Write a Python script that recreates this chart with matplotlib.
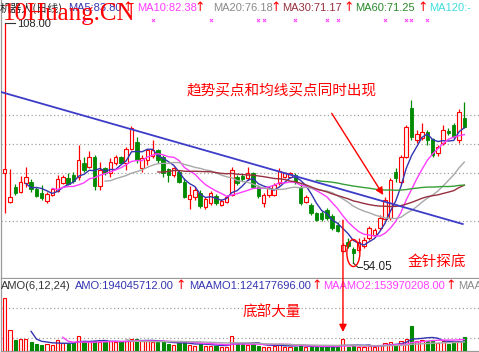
import matplotlib
matplotlib.use('Agg')
import matplotlib.pyplot as plt
import numpy as np
import pandas as pd
from matplotlib.patches import Rectangle, Ellipse, ConnectionPatch

W, H = 479, 352

# ---------------- data (price in yuan, amount in 1e8 yuan) ----------------
opens = [74.4, 67.8, 71.2, 70.1, 72.1, 72.3, 70.6, 69.7, 68.1, 69.3,
         70.3, 72.1, 73.1, 73.8, 73.5, 76.5, 75.6, 78.0, 71.4, 75.35,
         74.2, 76.6, 78.0, 76.6, 79.8, 81.3, 75.35, 77.2, 78.1, 79.5,
         78.0, 75.1, 73.8, 74.6, 72.3, 68.4, 68.9, 69.9, 66.65, 67.55,
         69.1, 67.1, 67.8, 69.35, 73.5, 73.6, 73.2, 74.3, 71.2, 67.55,
         69.35, 69.35, 72.0, 73.5, 73.5, 73.8, 71.2, 67.8, 67.1, 65.2,
         65.4, 66.0, 64.6, 62.6, 56.8, 58.85, 57.3, 57.0, 57.9, 59.7,
         60.4, 61.9, 63.9, 64.2, 74.5, 72.3, 77.9, 88.9, 81.7, 82.1,
         83.6, 81.9, 78.7, 81.0, 83.8, 85.1, 81.7, 86.6]
highs = [108.0, 75.2, 71.8, 73.6, 75.6, 72.9, 71.1, 71.6, 70.0, 70.85,
         73.8, 73.8, 74.4, 74.5, 80.6, 78.0, 79.3, 78.3, 76.8, 75.7,
         77.6, 78.3, 78.1, 80.2, 84.9, 82.4, 78.3, 79.8, 81.7, 79.8,
         78.3, 75.35, 75.7, 75.0, 73.1, 71.4, 71.2, 70.5, 68.9, 70.25,
         69.6, 68.45, 69.35, 75.6, 73.8, 74.1, 75.6, 74.5, 71.6, 69.8,
         71.4, 72.0, 75.4, 74.5, 74.5, 74.3, 71.8, 69.35, 67.55, 65.5,
         65.75, 66.4, 65.1, 63.3, 58.6, 59.7, 57.7, 59.7, 59.9, 62.4,
         61.9, 64.85, 68.9, 73.2, 75.4, 78.3, 85.1, 90.7, 83.95, 85.6,
         84.0, 82.2, 80.6, 85.1, 84.3, 85.5, 88.7, 90.3]
lows = [65.3, 67.6, 69.3, 69.7, 71.1, 70.1, 68.8, 68.2, 67.6, 69.1,
        70.1, 71.8, 71.6, 72.0, 72.7, 74.6, 75.35, 70.5, 70.5, 73.8,
        73.5, 76.1, 76.5, 75.0, 79.5, 76.5, 74.6, 76.1, 77.6, 76.5,
        73.5, 72.3, 73.5, 72.0, 68.6, 66.2, 68.2, 66.4, 66.2, 67.1,
        67.1, 66.9, 67.55, 69.1, 71.6, 72.5, 72.7, 70.9, 68.7, 66.7,
        68.9, 69.1, 71.6, 73.2, 73.2, 71.8, 67.1, 67.55, 64.85, 63.5,
        63.5, 63.7, 61.5, 61.0, 56.5, 57.4, 54.05, 56.5, 57.4, 59.2,
        59.9, 61.5, 63.7, 63.7, 72.3, 71.8, 77.7, 81.7, 81.0, 81.7,
        80.6, 77.8, 78.1, 80.6, 82.8, 81.9, 81.0, 84.4]
closes = [75.3, 68.9, 69.7, 72.3, 73.5, 70.6, 69.1, 68.6, 69.6, 70.6,
          72.9, 73.5, 71.8, 72.5, 77.2, 75.0, 78.0, 71.4, 75.0, 74.2,
          76.8, 78.0, 76.6, 79.6, 84.3, 77.2, 77.6, 79.5, 79.5, 77.2,
          74.2, 73.8, 75.35, 72.3, 68.8, 69.3, 70.5, 66.9, 68.4, 69.8,
          67.55, 68.1, 69.0, 75.0, 72.0, 72.9, 74.3, 71.2, 69.1, 69.35,
          70.9, 71.6, 74.8, 74.3, 74.3, 72.3, 67.5, 69.0, 65.2, 63.7,
          63.9, 64.1, 61.9, 61.3, 58.1, 57.9, 56.4, 58.85, 59.24, 61.9,
          61.5, 64.2, 68.2, 72.7, 73.2, 77.9, 84.6, 82.4, 83.05, 83.6,
          81.7, 78.3, 80.2, 84.0, 83.2, 82.4, 88.0, 84.7]
amount = [7.6, 2.9, 1.55, 1.6, 1.7, 1.3, 0.97, 0.87, 0.97, 0.87,
          1.55, 1.06, 0.97, 1.06, 2.17, 1.2, 1.35, 1.45, 1.3, 1.2,
          1.45, 1.2, 1.2, 1.45, 1.7, 1.7, 1.35, 1.35, 1.2, 1.2,
          1.35, 0.97, 0.87, 1.06, 1.2, 0.87, 0.72, 0.97, 0.72, 0.72,
          0.72, 0.58, 0.58, 2.17, 1.06, 0.97, 0.87, 0.97, 0.72, 0.58,
          0.58, 0.72, 0.97, 0.58, 0.58, 0.58, 0.87, 0.48, 0.48, 0.48,
          0.48, 0.58, 0.72, 0.48, 1.7, 0.48, 0.72, 0.58, 0.58, 0.72,
          0.58, 0.87, 1.06, 1.2, 0.87, 1.35, 1.7, 3.62, 1.45, 1.55,
          1.45, 1.55, 1.05, 1.35, 1.0, 1.15, 1.45, 1.94]

ma_periods = [5, 10, 20, 30, 60]
ma_colors = ['#3434b0', '#ff3cff', '#a8a8a8', '#963040', '#35a035']
amo_periods = [6, 12, 24]
amo_colors = ['#3434b0', '#ff3cff', '#a8a8a8']

# trend line (index, price) and annotation anchors
trend_idx = [-0.89, 86.7]
trend_price = [92.56, 62.83]
signal_idx = [15, 28, 39, 48, 49, 55, 61, 63, 72, 76, 77, 80]
price_grid = [87.4, 80.74, 74.36, 63.57]
amo_grid = [6.16, 1.86]

# ---------------- figure ----------------
fig = plt.figure(figsize=(W / 100, H / 100), dpi=100)
fig.patch.set_facecolor('white')

def fbox(x0, y0, x1, y1):
    return [x0 / W, 1 - y1 / H, (x1 - x0) / W, (y1 - y0) / H]

ax = fig.add_axes(fbox(1, 0, 479, 278))
axv = fig.add_axes(fbox(1, 279, 479, 351))

n = len(closes)
idx = np.arange(n)
RED = '#ff0000'
GREEN = '#008a00'
xl = (-0.70, 89.78)

for a in (ax, axv):
    a.set_xlim(*xl)
    a.set_xticks([])
    a.set_yticks([])
    for s in ('top', 'right'):
        a.spines[s].set_visible(False)
    for s in ('left', 'bottom'):
        a.spines[s].set_color('#9a9a9a')
        a.spines[s].set_linewidth(0.9)

ax.set_ylim(50.70, 113.17)
axv.set_ylim(-0.07, 10.36)

for g in price_grid:
    ax.axhline(g, color='#a0a0a0', lw=0.9, ls=(0, (1, 2)), zorder=1)
for g in amo_grid:
    axv.axhline(g, color='#a0a0a0', lw=0.9, ls=(0, (1, 2)), zorder=1)

bw = 0.66
for i in range(n):
    o, h, l, c = opens[i], highs[i], lows[i], closes[i]
    up = c >= o
    col = RED if up else GREEN
    lo_b, hi_b = min(o, c), max(o, c)
    if up:
        ax.plot([i, i], [hi_b, h], color=col, lw=0.9, zorder=2, solid_capstyle='butt')
        ax.plot([i, i], [l, lo_b], color=col, lw=0.9, zorder=2, solid_capstyle='butt')
        ax.add_patch(Rectangle((i - bw / 2, lo_b), bw, max(hi_b - lo_b, 0.15),
                               facecolor='#fff4f4', edgecolor=col, lw=0.8, zorder=3))
    else:
        ax.plot([i, i], [l, h], color=col, lw=0.9, zorder=2, solid_capstyle='butt')
        ax.add_patch(Rectangle((i - bw / 2, lo_b), bw, max(hi_b - lo_b, 0.15),
                               facecolor=col, edgecolor=col, lw=0.6, zorder=3))
    # amount bars
    axv.add_patch(Rectangle((i - 0.3, 0), 0.6, amount[i],
                            facecolor='#fff4f4' if up else col, edgecolor=col,
                            lw=0.8, zorder=3))

cs = pd.Series(closes)
for p, colr in zip(ma_periods, ma_colors):
    ax.plot(idx, cs.rolling(p).mean(), color=colr, lw=1.0, zorder=4)

am = pd.Series(amount)
for p, colr in zip(amo_periods, amo_colors):
    axv.plot(idx, am.rolling(p).mean(), color=colr, lw=1.0, zorder=4)

# trend line
ax.plot(trend_idx, trend_price, color='#3c3cc8', lw=1.3, zorder=4)

# signal markers
ax.scatter(signal_idx, [108.67] * len(signal_idx), marker='x', s=5, lw=0.7,
           color='#ff40ff', zorder=5)

# high label
ax.plot([0, 1.9], [108.0, 108.0], color='#333333', lw=0.8, zorder=5)
ax.text(2.3, 107.8, '108.00', fontsize=8, color='#222222', va='center', ha='left',
        family=['Liberation Sans', 'DejaVu Sans'])

# low label
low_i = int(np.argmin(lows))
ax.plot([low_i, low_i + 0.9, low_i + 1.7], [lows[low_i], 53.06, 53.06],
        color='#333333', lw=0.8, zorder=5)
ax.text(low_i + 1.8, 53.06, f'{lows[low_i]:.2f}', fontsize=8.5, color='#222222',
        va='center', ha='left', family=['Liberation Sans', 'DejaVu Sans'])

# ellipse around golden needle candle
ax.add_patch(Ellipse((low_i, 56.31), 2.46, 6.07, fill=False, edgecolor=RED, lw=1.0, zorder=6))

# arrow to buy point
ax.annotate('', xy=(71.66, 69.35), xytext=(61.9, 87.7),
            arrowprops=dict(arrowstyle='-|>', color=RED, lw=1.0, mutation_scale=11,
                            shrinkA=0, shrinkB=0), zorder=6)

# down arrow to bottom volume
con = ConnectionPatch(xyA=(64.03, 63.7), coordsA=ax.transData,
                      xyB=(64.03, 2.68), coordsB=axv.transData,
                      arrowstyle='-|>', color=RED, lw=1.0, mutation_scale=11,
                      shrinkA=0, shrinkB=0, zorder=7)
fig.add_artist(con)

CJK = ['Noto Sans CJK SC', 'DejaVu Sans']
LAT = ['Liberation Sans', 'DejaVu Sans']

def ftext(x, y, s, color, size=8, family=LAT, **kw):
    fig.text(x / W, 1 - y / H, s, color=color, fontsize=size, family=family,
             va='center', ha='left', **kw)

# annotations text
ftext(187, 90.5, '趋势买点和均线买点同时出现', RED, size=10.5, family=CJK)
ftext(408, 261.5, '金针探底', RED, size=10.5, family=CJK)
ftext(243, 313, '底部大量', RED, size=10.5, family=CJK)

# price header
ftext(0, 8, '机器人(日线)', '#222222', size=8, family=CJK)
hdr = [(68, 'MA5:83.80', ma_colors[0], 122),
       (137, 'MA10:82.38', ma_colors[1], 194),
       (213, 'MA20:76.18', '#8a8a8a', 270),
       (282, 'MA30:71.17', ma_colors[3], 343),
       (355, 'MA60:71.25', '#2a8a2a', 417)]
for x, s, c, ax_ in hdr:
    ftext(x, 8, s, c)
    ftext(ax_, 7.5, '↑', RED, size=9, family=['DejaVu Sans'])
ftext(429, 8, 'MA120:-', '#40dede')

# amount header
ftext(1, 286, 'AMO(6,12,24)', '#333333')
ftext(75, 286, 'AMO:194045712.00', '#3434b0')
ftext(175, 285.5, '↑', RED, size=9, family=['DejaVu Sans'])
ftext(189, 286, 'MAAMO1:124177696.00', '#3434b0')
ftext(311, 285.5, '↑', RED, size=9, family=['DejaVu Sans'])
ftext(323, 286, 'MAAMO2:153970208.00', '#ff3cff')
ftext(445, 285.5, '↑', RED, size=9, family=['DejaVu Sans'])
ftext(458, 286, 'MAA', '#8a8a8a')

# watermark
fig.text(3 / W, 1 - 20 / H, '10Huang.CN', color=RED, fontsize=18,
         family=['Liberation Serif', 'DejaVu Serif'], va='baseline', ha='left')

fig.savefig('out.png', dpi=100, facecolor='white')
